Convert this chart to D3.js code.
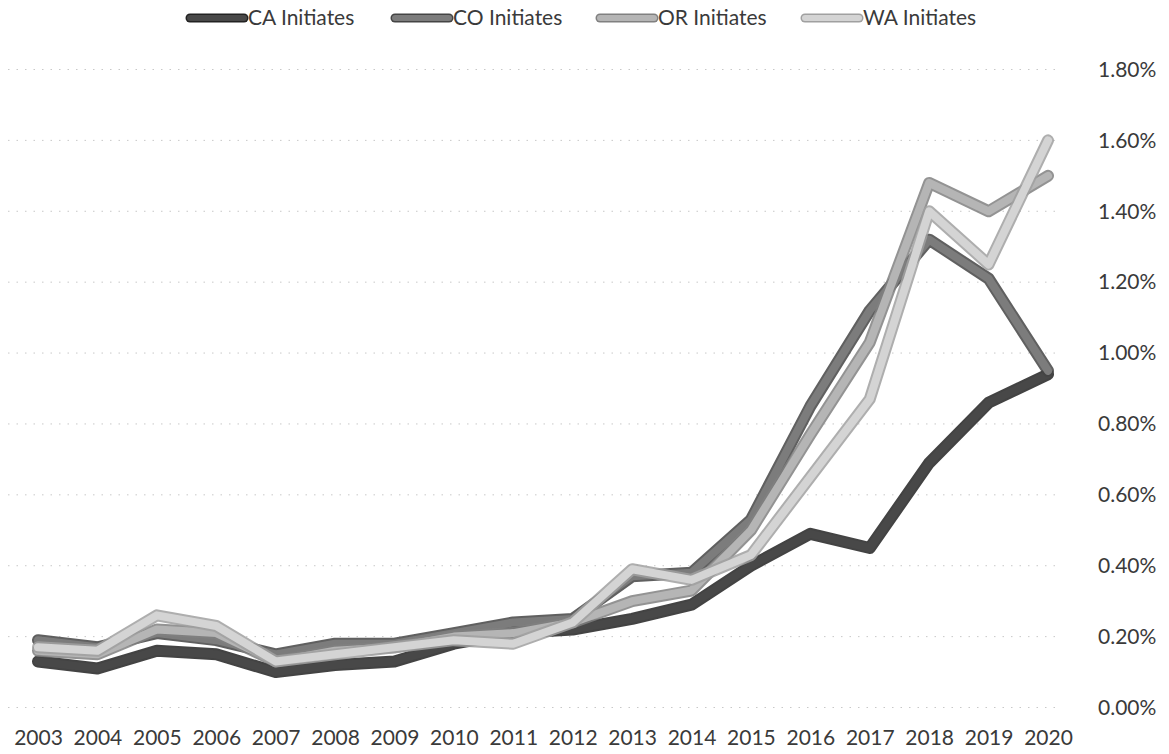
<!DOCTYPE html>
<html>
<head>
<meta charset="utf-8">
<script src="https://cdn.jsdelivr.net/npm/d3@7"></script>
<style>
  body { margin: 0; background: #fff; }
  svg { display: block; font-family: Lato, 'Open Sans', sans-serif; }
</style>
</head>
<body>
<svg width="1169" height="754"></svg>
<script>
/* global d3 */
var years = ['2003', '2004', '2005', '2006', '2007', '2008', '2009', '2010', '2011',
  '2012', '2013', '2014', '2015', '2016', '2017', '2018', '2019', '2020']

// percent values
var caInitiates = [0.13, 0.11, 0.16, 0.15, 0.10, 0.12, 0.13, 0.18, 0.21, 0.22, 0.25, 0.29, 0.40, 0.49, 0.45, 0.69, 0.86, 0.94]
var coInitiates = [0.19, 0.17, 0.21, 0.19, 0.15, 0.18, 0.18, 0.21, 0.24, 0.25, 0.37, 0.38, 0.53, 0.85, 1.12, 1.32, 1.21, 0.95]
var orInitiates = [0.16, 0.15, 0.22, 0.21, 0.13, 0.16, 0.17, 0.20, 0.21, 0.24, 0.30, 0.33, 0.50, 0.77, 1.03, 1.48, 1.40, 1.50]
var waInitiates = [0.17, 0.16, 0.26, 0.23, 0.13, 0.15, 0.17, 0.19, 0.18, 0.24, 0.39, 0.36, 0.43, 0.65, 0.87, 1.40, 1.25, 1.60]

var seriesNames = ['CA Initiates', 'CO Initiates', 'OR Initiates', 'WA Initiates']
var yTicks = [0, 0.2, 0.4, 0.6, 0.8, 1.0, 1.2, 1.4, 1.6, 1.8]

// inner colour / edge colour for each series (scanned greys)
var innerC = ['#484848', '#7c7c7c', '#b5b5b5', '#d4d4d4']
var edgeC = ['#222', '#444', '#808080', '#a0a0a0']
var textC = '#3a3a3a'

var svg = d3.select('svg')

var series = [caInitiates, coInitiates, orInitiates, waInitiates].map(function (vals, i) {
  return { name: seriesNames[i], values: vals.map(function (v, j) { return { year: years[j], v: v } }) }
})

var x = d3.scalePoint()
  .domain(years)
  .range([38, 1048])

var y = d3.scaleLinear()
  .domain([0, 1.8])
  .range([707.5, 69.5])

// gridlines
svg.append('g')
    .attr('class', 'grid')
  .selectAll('line')
  .data(yTicks)
  .enter().append('line')
    .attr('x1', 8)
    .attr('x2', 1062)
    .attr('y1', d => y(d))
    .attr('y2', d => y(d))
    .attr('stroke', '#c8c8c8')
    .attr('stroke-width', 1)
    .attr('stroke-dasharray', '1.5,7')

// right axis
var yAxis = d3.axisRight(y)
  .tickValues(yTicks)
  .tickSize(0)
  .tickPadding(0)
  .tickFormat(d => d.toFixed(2) + '%')

svg.append('g')
    .attr('transform', 'translate(1098,0)')
    .call(yAxis)
    .call(g => g.select('.domain').remove())
    .call(g => g.selectAll('text')
      .attr('font-size', 21)
      .attr('font-family', 'Lato, sans-serif')
      .attr('fill', textC))

// bottom axis
var xAxis = d3.axisBottom(x)
  .tickSize(0)
  .tickPadding(0)

svg.append('g')
    .attr('transform', 'translate(0,730)')
    .call(xAxis)
    .call(g => g.select('.domain').remove())
    .call(g => g.selectAll('text')
      .attr('font-size', 21)
      .attr('font-family', 'Lato, sans-serif')
      .attr('fill', textC))

var line = d3.line()
  .x(d => x(d.year))
  .y(d => y(d.v))

var lines = svg.append('g')
    .attr('class', 'lines')
  .selectAll('g')
  .data(series)
  .enter().append('g')

lines.append('path')
    .attr('d', d => line(d.values))
    .attr('fill', 'none')
    .attr('stroke', (d, i) => edgeC[i])
    .attr('stroke-width', 12)
    .attr('stroke-linejoin', 'round')
    .attr('stroke-linecap', 'round')
    .attr('opacity', 0.85)

lines.append('path')
    .attr('d', d => line(d.values))
    .attr('fill', 'none')
    .attr('stroke', (d, i) => innerC[i])
    .attr('stroke-width', 8)
    .attr('stroke-linejoin', 'round')
    .attr('stroke-linecap', 'round')

// legend
var legend = svg.append('g')
    .attr('class', 'legend')
  .selectAll('g')
  .data(series)
  .enter().append('g')
    .attr('transform', (d, i) => 'translate(' + (190 + i * 205) + ',18)')

legend.append('line')
    .attr('x1', 0)
    .attr('x2', 54)
    .attr('stroke', (d, i) => edgeC[i])
    .attr('stroke-width', 9)
    .attr('stroke-linecap', 'round')

legend.append('line')
    .attr('x1', 0)
    .attr('x2', 54)
    .attr('stroke', (d, i) => innerC[i])
    .attr('stroke-width', 6)
    .attr('stroke-linecap', 'round')

legend.append('text')
    .attr('x', 58)
    .attr('dy', '0.35em')
    .attr('font-size', 21)
    .attr('fill', textC)
    .text(d => d.name)
</script>
</body>
</html>
